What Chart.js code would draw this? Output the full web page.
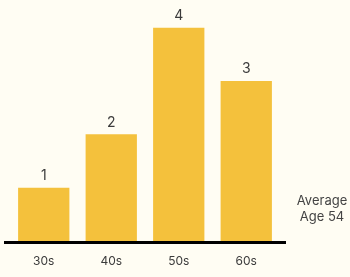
<!DOCTYPE html>
<html>
<head>
<meta charset="utf-8">
<script src="https://cdn.jsdelivr.net/npm/chart.js@4"></script>
<style>
  html, body { margin: 0; padding: 0; background: #fffdf3; }
  #wrap { width: 350px; height: 277px; }
</style>
</head>
<body>
<div id="wrap"><canvas id="ages"></canvas></div>
<script>
const categories = ['30s', '40s', '50s', '60s'];
const counts = [1, 2, 4, 3];
const noteLines = ['Average', 'Age 54'];

const barColor = '#f4c13c';
const textColor = '#3b3b3b';

// numbers on top of bars + baseline + side note
const extras = {
  id: 'extras',
  afterDatasetsDraw(chart) {
    const c = chart.ctx;
    const area = chart.chartArea;
    const meta = chart.getDatasetMeta(0);
    c.save();
    c.font = '14px Inter';
    c.fillStyle = textColor;
    c.textAlign = 'center';
    c.textBaseline = 'middle';
    meta.data.forEach((bar, i) => {
      c.fillText(counts[i], bar.x, bar.y - 12);
    });

    c.strokeStyle = '#000';
    c.lineWidth = 3;
    c.beginPath();
    c.moveTo(area.left - 6, area.bottom + 1.5);
    c.lineTo(area.right + 6, area.bottom + 1.5);
    c.stroke();

    c.font = '13px Inter';
    c.fillStyle = '#444';
    noteLines.forEach((t, i) => {
      c.fillText(t, 322, 201 + i * 16);
    });
    c.restore();
  }
};

new Chart(document.getElementById('ages').getContext('2d'), {
  type: 'bar',
  data: {
    labels: categories,
    datasets: [{
      data: counts,
      backgroundColor: barColor,
      borderWidth: 0,
      categoryPercentage: 0.76,
      barPercentage: 1
    }]
  },
  options: {
    responsive: true,
    maintainAspectRatio: false,
    animation: false,
    layout: { padding: { left: 10, right: 70, top: 1, bottom: -4.4 } },
    plugins: { legend: { display: false }, tooltip: { enabled: false } },
    scales: {
      x: {
        grid: { display: false, drawTicks: false },
        border: { display: false },
        ticks: { color: textColor, font: { family: 'Inter', size: 12 }, padding: 13 }
      },
      y: { display: false, min: 0, max: 4.5 }
    }
  },
  plugins: [extras]
});
</script>
</body>
</html>
